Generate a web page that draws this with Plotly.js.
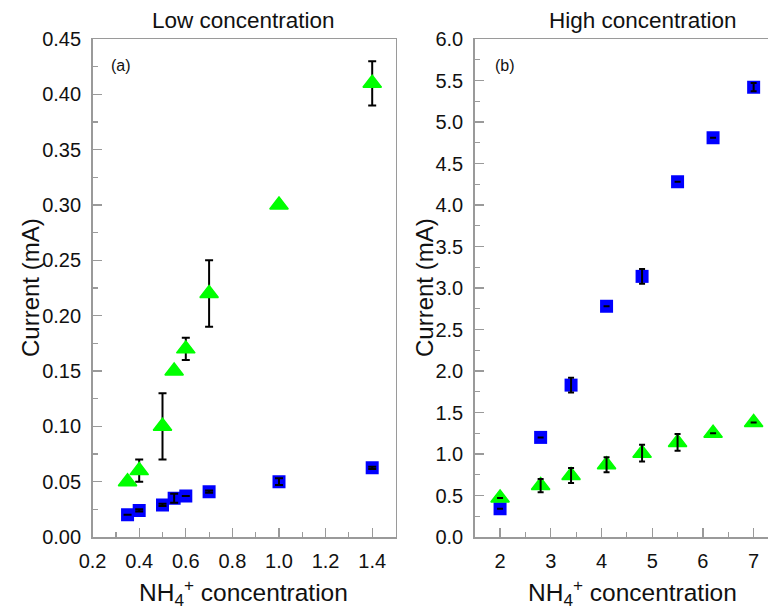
<!DOCTYPE html>
<html>
<head>
<meta charset="utf-8">
<script src="https://cdn.plot.ly/plotly-3.0.1.min.js"></script>
<style>
  html, body { margin: 0; padding: 0; overflow: hidden; background: #fff; }
  #chart { width: 790px; height: 610px; }
</style>
</head>
<body>
<div id="chart"></div>
<script>
// ---- Data ----
const lowX = [0.35, 0.4, 0.5, 0.55, 0.6, 0.7, 1.0, 1.4];
const lowGreen = [0.05, 0.06, 0.10, 0.15, 0.17, 0.22, 0.30, 0.41];
const lowGreenErr = [0, 0.01, 0.03, 0, 0.01, 0.03, 0, 0.02];
const lowBlue = [0.020, 0.024, 0.029, 0.035, 0.037, 0.041, 0.050, 0.0625];
const lowBlueErr = [0, 0.001, 0.001, 0.004, 0, 0.001, 0.003, 0.001];

const highX = [2, 2.8, 3.4, 4.1, 4.8, 5.5, 6.2, 7.0];
const highBlue = [0.34, 1.20, 1.83, 2.78, 3.14, 4.28, 4.81, 5.42];
const highBlueErr = [0, 0, 0.09, 0, 0.09, 0, 0, 0.05];
const highGreen = [0.47, 0.62, 0.74, 0.87, 1.01, 1.14, 1.25, 1.38];
const highGreenErr = [0, 0.08, 0.09, 0.09, 0.10, 0.10, 0, 0];

const panelTitles = ["Low concentration", "High concentration"];
const panelTags = ["(a)", "(b)"];
const yTitle = "Current (mA)";
const xTitle = "NH<sub>4</sub><sup>+</sup> concentration";

// ---- Styling ----
const W = 790, H = 610;
const GREEN = "#00ff00", BLUE = "#0000ff";
const FONT = "Liberation Sans, Arial, sans-serif";
const px = v => v / W;
const py = v => 1 - v / H;

function errOverlay(x, y, err, xa, ya, w) {
  return {
    x: x, y: y, xaxis: xa, yaxis: ya, type: "scatter", mode: "markers",
    marker: { size: 1, color: "rgba(0,0,0,0)" }, hoverinfo: "skip", showlegend: false,
    error_y: { type: "data", array: err, visible: true, color: "#000", thickness: 2, width: w }
  };
}

const triMarker = { symbol: "triangle-up", size: 16, color: GREEN, line: { color: GREEN, width: 1.5 } };
const sqMarker = { symbol: "square", size: 13, color: BLUE };

const traces = [
  // left panel
  { x: lowX, y: lowBlue, xaxis: "x", yaxis: "y", type: "scatter", mode: "markers",
    marker: sqMarker, showlegend: false },
  errOverlay(lowX, lowBlue, lowBlueErr, "x", "y", 4),
  { x: lowX, y: lowGreen, xaxis: "x", yaxis: "y", type: "scatter", mode: "markers",
    marker: triMarker,
    error_y: { type: "data", array: lowGreenErr, visible: true, color: "#000", thickness: 2, width: 4 },
    showlegend: false },
  // right panel
  { x: highX, y: highBlue, xaxis: "x2", yaxis: "y2", type: "scatter", mode: "markers",
    marker: sqMarker, showlegend: false },
  { x: highX, y: highGreen, xaxis: "x2", yaxis: "y2", type: "scatter", mode: "markers",
    marker: triMarker, showlegend: false },
  errOverlay(highX, highBlue, highBlueErr, "x2", "y2", 3),
  errOverlay(highX, highGreen, highGreenErr, "x2", "y2", 3)
];

const axisBase = {
  showgrid: false, zeroline: false, showline: true, mirror: true,
  linecolor: "#9a9a9a", linewidth: 1.5,
  ticks: "inside", ticklen: 9, tickwidth: 1.2, tickcolor: "#9a9a9a",
  tickfont: { family: FONT, size: 20, color: "#111" }
};
const yDomain = [1 - 537 / H, 1 - 39 / H];

const layout = {
  width: W, height: H,
  margin: { l: 0, r: 0, t: 0, b: 0 },
  paper_bgcolor: "#fff", plot_bgcolor: "#fff",
  showlegend: false,
  font: { family: FONT, color: "#111" },
  xaxis: Object.assign({}, axisBase, {
    domain: [px(92.6), px(395.5)], range: [0.2, 1.5], tick0: 0.2, dtick: 0.2, tickformat: ".1f", anchor: "y",
    ticklabelstandoff: 5,
    minor: { ticks: "inside", ticklen: 5, dtick: 0.1, tick0: 0.2, tickcolor: "#9a9a9a", showgrid: false }
  }),
  yaxis: Object.assign({}, axisBase, {
    domain: yDomain, range: [0, 0.45], tick0: 0, dtick: 0.05, tickformat: ".2f", anchor: "x",
    ticklabelstandoff: 6,
    minor: { ticks: "inside", ticklen: 5, dtick: 0.025, tickcolor: "#9a9a9a", showgrid: false }
  }),
  xaxis2: Object.assign({}, axisBase, {
    domain: [px(474.7), px(779)], range: [1.5, 7.5], tick0: 0, dtick: 1, anchor: "y2",
    ticklabelstandoff: 5,
    minor: { ticks: "inside", ticklen: 5, dtick: 0.5, tickcolor: "#9a9a9a", showgrid: false }
  }),
  yaxis2: Object.assign({}, axisBase, {
    domain: yDomain, range: [0, 6], tick0: 0, dtick: 0.5, tickformat: ".1f", anchor: "x2",
    ticklabelstandoff: 6,
    minor: { ticks: "inside", ticklen: 5, dtick: 0.25, tickcolor: "#9a9a9a", showgrid: false }
  }),
  annotations: [
    { text: panelTitles[0], x: px(244), y: py(20), xref: "paper", yref: "paper", xanchor: "center", yanchor: "middle", showarrow: false, font: { size: 22.5, family: FONT, color: "#111" } },
    { text: panelTitles[1], x: px(643), y: py(20), xref: "paper", yref: "paper", xanchor: "center", yanchor: "middle", showarrow: false, font: { size: 22.5, family: FONT, color: "#111" } },
    { text: yTitle, x: px(30), y: py(288), xref: "paper", yref: "paper", xanchor: "center", yanchor: "middle", textangle: -90, showarrow: false, font: { size: 24, family: FONT, color: "#111" } },
    { text: yTitle, x: px(424), y: py(288), xref: "paper", yref: "paper", xanchor: "center", yanchor: "middle", textangle: -90, showarrow: false, font: { size: 24, family: FONT, color: "#111" } },
    { text: xTitle, x: px(244), y: py(592), xref: "paper", yref: "paper", xanchor: "center", yanchor: "middle", showarrow: false, font: { size: 24.5, family: FONT, color: "#111" } },
    { text: xTitle, x: px(632), y: py(592), xref: "paper", yref: "paper", xanchor: "center", yanchor: "middle", showarrow: false, font: { size: 24.5, family: FONT, color: "#111" } },
    { text: panelTags[0], x: px(121), y: py(65), xref: "paper", yref: "paper", xanchor: "center", yanchor: "middle", showarrow: false, font: { size: 16, family: FONT, color: "#111" } },
    { text: panelTags[1], x: px(505), y: py(65), xref: "paper", yref: "paper", xanchor: "center", yanchor: "middle", showarrow: false, font: { size: 16, family: FONT, color: "#111" } }
  ]
};

Plotly.newPlot("chart", traces, layout, { displayModeBar: false, staticPlot: true });
</script>
</body>
</html>
